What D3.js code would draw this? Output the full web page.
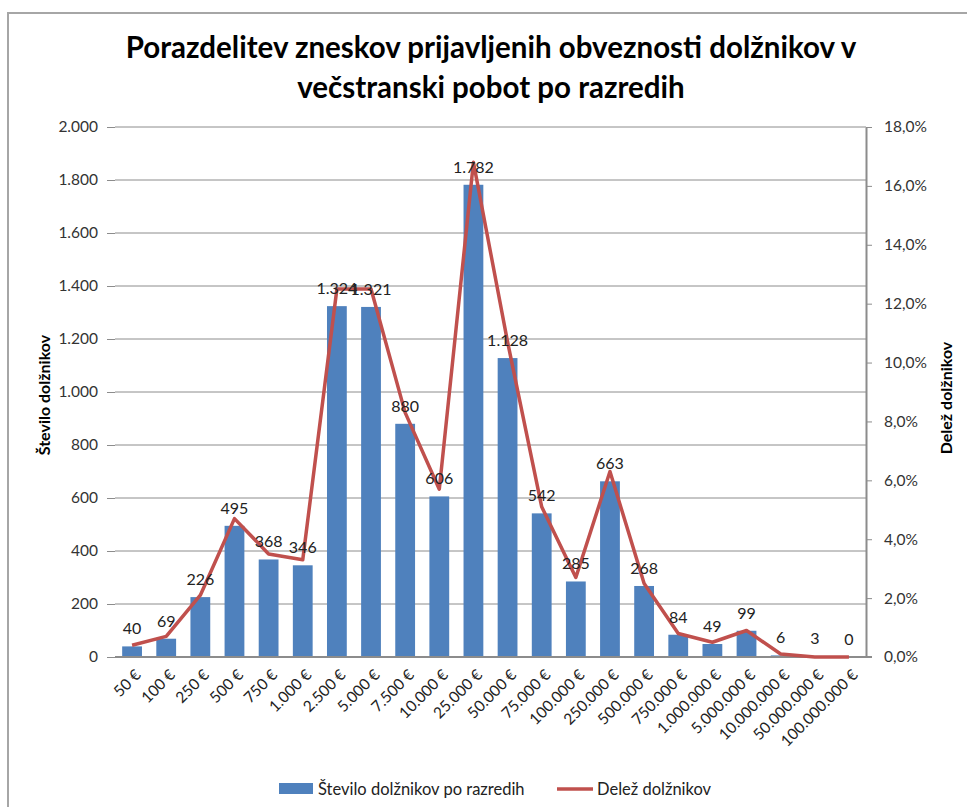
<!DOCTYPE html>
<html>
<head>
<meta charset="utf-8">
<script src="https://cdn.jsdelivr.net/npm/d3@7"></script>
<style>
  body { margin: 0; background: #fff; }
  text { font-family: "Lato", "Open Sans", sans-serif; }
</style>
</head>
<body>
<div id="vis"></div>
<script>
const FRAME_WIDTH = 967;
const FRAME_HEIGHT = 807;
const MARGINS = {left: 115, right: 101, top: 127, bottom: 150};
const VIS_WIDTH = FRAME_WIDTH - MARGINS.left - MARGINS.right;
const VIS_HEIGHT = FRAME_HEIGHT - MARGINS.top - MARGINS.bottom;

// data
const categories = ["50 €", "100 €", "250 €", "500 €", "750 €", "1.000 €", "2.500 €", "5.000 €",
  "7.500 €", "10.000 €", "25.000 €", "50.000 €", "75.000 €", "100.000 €", "250.000 €",
  "500.000 €", "750.000 €", "1.000.000 €", "5.000.000 €", "10.000.000 €", "50.000.000 €",
  "100.000.000 €"];
const counts = [40, 69, 226, 495, 368, 346, 1324, 1321, 880, 606, 1782, 1128, 542, 285, 663,
  268, 84, 49, 99, 6, 3, 0];
const shares = [0.4, 0.7, 2.1, 4.7, 3.5, 3.3, 12.5, 12.5, 8.3, 5.7, 16.8, 10.7, 5.1, 2.7, 6.3,
  2.5, 0.8, 0.5, 0.9, 0.1, 0.0, 0.0];
const leftTicks = [0, 200, 400, 600, 800, 1000, 1200, 1400, 1600, 1800, 2000];
const rightTicks = [0, 2, 4, 6, 8, 10, 12, 14, 16, 18];
const titleLines = ["Porazdelitev zneskov prijavljenih obveznosti dolžnikov v",
  "večstranski pobot po razredih"];

const BAR_COLOR = "#4F81BD";
const LINE_COLOR = "#C0504D";

const svg = d3.select("#vis")
  .append("svg")
    .attr("width", FRAME_WIDTH)
    .attr("height", FRAME_HEIGHT);

// chart border (top + left visible)
svg.append("rect")
  .attr("x", 8).attr("y", 13)
  .attr("width", FRAME_WIDTH + 20).attr("height", FRAME_HEIGHT + 20)
  .attr("fill", "none")
  .attr("stroke", "#a6a6a6")
  .attr("stroke-width", 2);

// title
svg.selectAll(".title")
  .data(titleLines)
  .enter()
  .append("text")
    .attr("class", "title")
    .attr("x", 491)
    .attr("y", (d, i) => 58 + i * 40)
    .attr("text-anchor", "middle")
    .attr("font-size", "29.5px")
    .attr("font-weight", "bold")
    .attr("fill", "#000")
    .text(d => d);

const X_SCALE = d3.scaleBand()
  .domain(categories)
  .range([0, VIS_WIDTH])
  .paddingInner(0.42)
  .paddingOuter(0.21);

const Y_SCALE = d3.scaleLinear()
  .domain([0, 2000])
  .range([VIS_HEIGHT, 0]);

const Y2_SCALE = d3.scaleLinear()
  .domain([0, 18])
  .range([VIS_HEIGHT, 0]);

const plot = svg.append("g")
  .attr("transform", `translate(${MARGINS.left},${MARGINS.top})`);

// gridlines
plot.append("g")
  .selectAll("line")
  .data(leftTicks.slice(1))
  .enter()
  .append("line")
    .attr("x1", 0).attr("x2", VIS_WIDTH)
    .attr("y1", d => Y_SCALE(d)).attr("y2", d => Y_SCALE(d))
    .attr("stroke", "#8c8c8c")
    .attr("stroke-width", 1);

// left axis
const leftAxis = plot.append("g")
  .call(d3.axisLeft(Y_SCALE)
    .tickValues(leftTicks)
    .tickSize(8)
    .tickPadding(9)
    .tickFormat(d => d3.format(",")(d).replace(/,/g, ".")));
leftAxis.select(".domain").remove();
leftAxis.selectAll("line").attr("stroke", "#8c8c8c");
leftAxis.selectAll("text")
  .attr("font-size", "15.5px")
  .attr("fill", "#333")
  .attr("font-family", "Lato, sans-serif");

// right axis
const rightAxis = plot.append("g")
  .attr("transform", `translate(${VIS_WIDTH},0)`)
  .call(d3.axisRight(Y2_SCALE)
    .tickValues(rightTicks)
    .tickSize(6)
    .tickSizeOuter(0)
    .tickPadding(12)
    .tickFormat(d => d3.format(".1f")(d).replace(".", ",") + "%"));
rightAxis.select(".domain").attr("stroke", "#8c8c8c").attr("stroke-width", 2);
rightAxis.selectAll("line").attr("stroke", "#8c8c8c");
rightAxis.selectAll("text")
  .attr("font-size", "15.5px")
  .attr("fill", "#333")
  .attr("font-family", "Lato, sans-serif");

// bars
plot.selectAll(".bar")
  .data(counts)
  .enter()
  .append("rect")
    .attr("class", "bar")
    .attr("x", (d, i) => X_SCALE(categories[i]))
    .attr("y", d => Y_SCALE(d))
    .attr("width", X_SCALE.bandwidth())
    .attr("height", d => VIS_HEIGHT - Y_SCALE(d))
    .attr("fill", BAR_COLOR);

// baseline (x axis)
plot.append("line")
  .attr("x1", 0).attr("x2", VIS_WIDTH + 6)
  .attr("y1", VIS_HEIGHT).attr("y2", VIS_HEIGHT)
  .attr("stroke", "#8c8c8c")
  .attr("stroke-width", 2);

// x labels
plot.append("g")
  .selectAll("text")
  .data(categories)
  .enter()
  .append("text")
    .attr("transform", d => `translate(${X_SCALE(d) + X_SCALE.bandwidth() / 2 + 6},${VIS_HEIGHT + 15}) rotate(-45)`)
    .attr("text-anchor", "end")
    .attr("dy", "0.35em")
    .attr("font-size", "15.5px")
    .attr("fill", "#222")
    .text(d => d);

// share line
const line = d3.line()
  .x((d, i) => X_SCALE(categories[i]) + X_SCALE.bandwidth() / 2)
  .y(d => Y2_SCALE(d));

plot.append("path")
  .datum(shares)
  .attr("d", line)
  .attr("fill", "none")
  .attr("stroke", LINE_COLOR)
  .attr("stroke-width", 3.5)
  .attr("stroke-linejoin", "round");

// data labels
plot.selectAll(".lbl")
  .data(counts)
  .enter()
  .append("text")
    .attr("class", "lbl")
    .attr("x", (d, i) => X_SCALE(categories[i]) + X_SCALE.bandwidth() / 2)
    .attr("y", d => Y_SCALE(d) - 12)
    .attr("text-anchor", "middle")
    .attr("font-size", "16px")
    .attr("fill", "#222")
    .text(d => d3.format(",")(d).replace(/,/g, "."));

// axis titles
svg.append("text")
  .attr("transform", "translate(50,395) rotate(-90)")
  .attr("text-anchor", "middle")
  .attr("font-size", "16px")
  .attr("font-weight", "bold")
  .attr("fill", "#000")
  .text("Število dolžnikov");

svg.append("text")
  .attr("transform", "translate(952,398) rotate(-90)")
  .attr("text-anchor", "middle")
  .attr("font-size", "16px")
  .attr("font-weight", "bold")
  .attr("fill", "#000")
  .text("Delež dolžnikov");

// legend
const legend = svg.append("g");
legend.append("rect")
  .attr("x", 279).attr("y", 783)
  .attr("width", 34).attr("height", 11)
  .attr("fill", BAR_COLOR);
legend.append("text")
  .attr("x", 318).attr("y", 795)
  .attr("font-size", "16.5px")
  .attr("fill", "#222")
  .text("Število dolžnikov po razredih");
legend.append("line")
  .attr("x1", 557).attr("x2", 593)
  .attr("y1", 789).attr("y2", 789)
  .attr("stroke", LINE_COLOR)
  .attr("stroke-width", 3.5);
legend.append("text")
  .attr("x", 597).attr("y", 795)
  .attr("font-size", "16.5px")
  .attr("fill", "#222")
  .text("Delež dolžnikov");
</script>
</body>
</html>
